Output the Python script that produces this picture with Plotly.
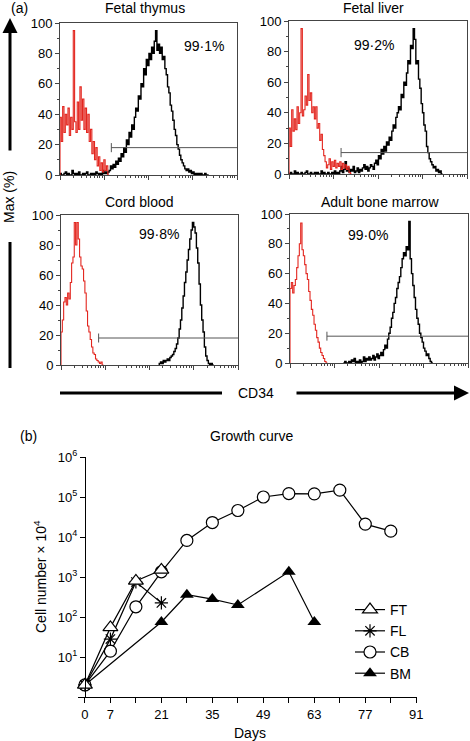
import math
import plotly.graph_objects as go

W, H = 470, 741

# ---------------- Panel (a): CD34 flow histograms (% of max vs log decades) ----------------
BIN = 0.03  # width of one histogram channel, in log decades

panel_titles = ["Fetal thymus", "Fetal liver", "Cord blood", "Adult bone marrow"]
panel_pcts = ["99·1%", "99·2%", "99·8%", "99·0%"]
pct_x = [3.26, 1.91, 2.22, 1.75]
pct_y = [85, 84, 87, 86]
gate_start = [1.16, 1.17, 0.85, 0.83]
gate_level = [18, 14, 18, 18]

ft_red_start = 0.0
ft_red = [0, 38, 22, 45, 28, 40, 33, 44, 26, 38, 30, 95, 35, 28, 48, 30, 58, 36, 50, 30, 44, 28,
          40, 22, 30, 14, 22, 10, 18, 6, 12, 3, 8, 2, 10, 3, 6, 0]
ft_black_start = 0.0
ft_black = [0, 1, 0, 0, 1, 2, 0, 1, 0, 0, 3, 1, 0, 1, 0, 2, 0, 0, 1, 0, 1, 2, 0, 0, 1, 0, 1, 0, 2, 1,
            0, 1, 0, 3, 1, 2, 1, 2,
            3, 6, 4, 7, 5, 9, 7, 11, 9, 14, 12, 18, 15, 23, 20, 28, 25, 33, 30, 38, 44, 42, 52, 50,
            60, 58, 70, 66, 76, 72, 80, 76, 84, 80, 88, 95, 82, 86, 80, 84, 76, 78, 70, 66, 58, 54,
            46, 42, 36, 30, 26, 20, 17, 13, 10, 8, 6, 4, 3, 4, 2, 3, 1, 2, 0, 1, 0, 1, 0, 1, 0, 0, 1, 0, 0]

fl_red_start = 0.0
fl_red = [0, 30, 18, 42, 28, 36, 29, 44, 33, 40, 95, 38, 42, 51, 45, 65, 48, 53, 40, 44, 36, 44, 30,
          33, 22, 26, 16, 12, 8, 4, 6, 10, 3, 8, 5, 9, 4, 7, 5, 8, 3, 7, 4, 6, 3, 5, 1, 0]
fl_black_start = 0.0
fl_black = [0, 0, 1, 0, 0, 2, 0, 1, 0, 0, 1, 0, 0, 1, 2, 0, 0, 1, 0, 0, 1, 0, 1, 0, 0, 2, 0, 1, 0, 0,
            1, 0, 0, 1, 0, 2, 0, 1, 0,
            2, 5, 1, 3, 8, 2, 4, 1, 3, 2, 5, 1, 2, 4, 1, 3, 2, 4, 6, 3, 5, 2, 4, 6,
            5, 3, 7, 9, 6, 12, 10, 16, 13, 18, 15, 21, 19, 24, 22, 28, 32, 30, 37, 40, 44, 42, 52,
            50, 60, 58, 66, 74, 72, 84, 82, 95, 88, 72, 74, 62, 56, 46, 40, 32, 28, 18, 14, 10, 8,
            6, 4, 5, 2, 3, 1, 2, 0]

cb_red_start = 0.0
cb_red = [0, 22, 30, 42, 45, 40, 48, 44, 55, 68, 72, 95, 80, 95, 84, 72, 66, 64, 56, 48, 36, 26, 22,
          17, 12, 8, 7, 4, 3, 2, 1, 2, 0]
cb_black_start = 2.22
cb_black = [0, 1, 2, 1, 3, 2, 3, 4, 3, 5, 6, 7, 9, 11, 14, 18, 24, 30, 38, 46, 55, 62, 70, 77, 84, 90,
            95, 92, 88, 78, 68, 54, 40, 30, 22, 12, 6, 3, 1, 0, 1, 0]

bm_red_start = 0.0
bm_red = [0, 50, 54, 47, 52, 56, 64, 72, 80, 94, 76, 72, 66, 60, 56, 48, 42, 36, 32, 26, 22, 17, 14,
          10, 7, 5, 3, 1, 0]
bm_black_start = 1.2
bm_black = [0, 0, 1, 0, 0, 1, 0, 2, 1, 3, 0, 1, 0, 2, 0, 1, 4, 1, 3, 2, 4, 2, 3, 5, 2, 4, 6, 3, 5, 7,
            5, 9, 12, 10, 16, 20, 24, 30, 34, 40, 44, 50, 54, 58, 64, 70, 74, 72, 78, 76, 95, 70, 60,
            52, 44, 36, 30, 26, 20, 17, 14, 10, 8, 5, 6, 3, 1, 0]

hists = [
    (ft_black_start, ft_black, ft_red_start, ft_red),
    (fl_black_start, fl_black, fl_red_start, fl_red),
    (cb_black_start, cb_black, cb_red_start, cb_red),
    (bm_black_start, bm_black, bm_red_start, bm_red),
]

# ---------------- Panel (b): growth curve ----------------
ft_days = [0, 7, 14, 21]
ft_cells = [2, 55, 800, 1500]
fl_days = [0, 7, 14, 21]
fl_cells = [2, 28, 750, 225]
cb_days = [0, 7, 14, 21, 28, 35, 42, 49, 56, 63, 70, 77, 84]
cb_cells = [2, 14, 180, 1350, 8200, 23000, 46000, 100000, 122000, 120000, 148000, 21000, 14000]
bm_days = [0, 21, 28, 35, 42, 56, 63]
bm_cells = [2, 75, 360, 280, 200, 1350, 75]

day_ticks = [0, 7, 14, 21, 28, 35, 42, 49, 56, 63, 70, 77, 84, 91]
day_labels = ["0", "7", "", "21", "", "35", "", "49", "", "63", "", "77", "", "91"]
cell_ticks = [10, 100, 1000, 10000, 100000, 1000000]
cell_labels = ["10<sup>1</sup>", "10<sup>2</sup>", "10<sup>3</sup>", "10<sup>4</sup>",
               "10<sup>5</sup>", "10<sup>6</sup>"]

FONT = "Arial, Liberation Sans, sans-serif"
RED = "#e3261f"


def px_x(p):
    return p / W


def px_y(p):
    return 1 - p / H


def label(fig, x, y, text, size=14, angle=0):
    fig.add_annotation(xref="paper", yref="paper", x=px_x(x), y=px_y(y), text=text,
                       showarrow=False, xanchor="center", yanchor="middle", textangle=angle,
                       font=dict(family=FONT, size=size, color="black"))


fig = go.Figure()

# histogram panel boxes in pixels: (left, right, top, bottom)
boxes = [(60, 237, 23, 175), (289, 467, 21, 174), (61, 238, 215, 365), (290, 468, 214, 363)]
title_pos = [(145, 8), (373, 8), (139, 202), (380, 202)]
minor_vals = [d + math.log10(k) for d in range(4) for k in range(2, 10)]

for i, (bs, bv, rs, rv) in enumerate(hists):
    n = "" if i == 0 else str(i + 1)
    fig.add_trace(go.Scatter(x=[bs + BIN * j for j in range(len(bv))], y=bv, mode="lines",
                             line=dict(color="black", width=1.4, shape="vh"),
                             xaxis="x" + n, yaxis="y" + n, showlegend=False, hoverinfo="skip"))
    fig.add_trace(go.Scatter(x=[rs + BIN * j for j in range(len(rv))], y=rv, mode="lines",
                             line=dict(color=RED, width=1.1, shape="vh"),
                             xaxis="x" + n, yaxis="y" + n, showlegend=False, hoverinfo="skip"))
    l, r, t, b = boxes[i]
    fig.layout["xaxis" + n] = dict(domain=[px_x(l), px_x(r)], range=[0, 4], anchor="y" + n,
                                   automargin=False,
                                   showline=True, linecolor="#444", linewidth=1, mirror=True,
                                   showgrid=False, zeroline=False, showticklabels=False,
                                   ticks="outside", ticklen=4, tickcolor="#444",
                                   tickvals=[0, 1, 2, 3, 4],
                                   minor=dict(tickvals=minor_vals, ticks="outside", ticklen=2,
                                              tickcolor="#444", showgrid=False))
    fig.layout["yaxis" + n] = dict(domain=[px_y(b), px_y(t)], range=[0, 100], anchor="x" + n,
                                   automargin=False,
                                   showline=True, linecolor="#444", linewidth=1, mirror=True,
                                   showgrid=False, zeroline=False,
                                   ticks="outside", ticklen=4, tickcolor="#444",
                                   tickvals=[0, 20, 40, 60, 80, 100],
                                   tickfont=dict(family=FONT, size=13, color="black"),
                                   minor=dict(dtick=10, ticks="outside", ticklen=2,
                                              tickcolor="#444", showgrid=False))
    # gate marker
    fig.add_shape(type="line", xref="x" + n, yref="y" + n, x0=gate_start[i], x1=4,
                  y0=gate_level[i], y1=gate_level[i], line=dict(color="#555", width=1))
    fig.add_shape(type="line", xref="x" + n, yref="y" + n, x0=gate_start[i], x1=gate_start[i],
                  y0=gate_level[i] - 3, y1=gate_level[i] + 3, line=dict(color="#555", width=1))
    fig.add_annotation(xref="x" + n, yref="y" + n, x=pct_x[i], y=pct_y[i], text=panel_pcts[i],
                       showarrow=False, xanchor="center", yanchor="middle",
                       font=dict(family=FONT, size=14, color="black"))
    label(fig, title_pos[i][0], title_pos[i][1], panel_titles[i])

# growth curve traces (draw order BM, CB, FL, FT; legend order FT, FL, CB, BM)
fig.add_trace(go.Scatter(x=bm_days, y=bm_cells, name="BM", mode="lines+markers",
                         line=dict(color="black", width=1.2),
                         marker=dict(symbol="triangle-up", size=12, color="black"),
                         xaxis="x5", yaxis="y5", legendrank=4, cliponaxis=False))
fig.add_trace(go.Scatter(x=cb_days, y=cb_cells, name="CB", mode="lines+markers",
                         line=dict(color="black", width=1.2),
                         marker=dict(symbol="circle", size=12, color="white",
                                     line=dict(color="black", width=1.2)),
                         xaxis="x5", yaxis="y5", legendrank=3, cliponaxis=False))
fig.add_trace(go.Scatter(x=fl_days, y=fl_cells, name="FL", mode="lines+markers",
                         line=dict(color="black", width=1.2),
                         marker=dict(symbol="asterisk-open", size=11, color="black",
                                     line=dict(color="black", width=1.2)),
                         xaxis="x5", yaxis="y5", legendrank=2, cliponaxis=False))
fig.add_trace(go.Scatter(x=ft_days, y=ft_cells, name="FT", mode="lines+markers",
                         line=dict(color="black", width=1.2),
                         marker=dict(symbol="triangle-up", size=13, color="white",
                                     line=dict(color="black", width=1.2)),
                         xaxis="x5", yaxis="y5", legendrank=1, cliponaxis=False))

fig.update_layout(
    xaxis5=dict(domain=[px_x(78), px_x(417)], range=[-1.9, 91.2], anchor="y5", automargin=False,
                showline=True, linecolor="black", linewidth=1, showgrid=False, zeroline=False,
                ticks="outside", ticklen=5, tickcolor="black", tickvals=day_ticks,
                ticktext=day_labels, tickfont=dict(family=FONT, size=13, color="black")),
    yaxis5=dict(domain=[px_y(697), px_y(457)], type="log", range=[0, 6], anchor="free",
                position=px_x(85), automargin=False, showline=True, linecolor="black",
                linewidth=1, showgrid=False, zeroline=False, ticks="outside", ticklen=5,
                tickcolor="black", tickvals=cell_ticks, ticktext=cell_labels,
                tickfont=dict(family=FONT, size=13, color="black")),
)

# panel (b) texts
label(fig, 28, 436, "(b)")
label(fig, 251, 436, "Growth curve")
label(fig, 250, 733, "Days")
label(fig, 40, 577, "Cell number × 10<sup>4</sup>", angle=-90)

# panel (a) shared labels and arrows
label(fig, 19, 8, "(a)")
label(fig, 9, 197, "Max (%)", angle=-90)
label(fig, 256, 393, "CD34")
fig.add_annotation(xref="paper", yref="paper", x=px_x(10), y=px_y(18), ax=0, ay=134,
                   axref="pixel", ayref="pixel", text="", showarrow=True, arrowhead=2,
                   arrowsize=1, arrowwidth=3, arrowcolor="black")
fig.add_shape(type="line", xref="paper", yref="paper", x0=px_x(10), x1=px_x(10),
              y0=px_y(242), y1=px_y(368), line=dict(color="black", width=3))
fig.add_shape(type="line", xref="paper", yref="paper", x0=px_x(60), x1=px_x(222),
              y0=px_y(393), y1=px_y(393), line=dict(color="black", width=3))
fig.add_annotation(xref="paper", yref="paper", x=px_x(469), y=px_y(393), ax=-174, ay=0,
                   axref="pixel", ayref="pixel", text="", showarrow=True, arrowhead=2,
                   arrowsize=1, arrowwidth=3, arrowcolor="black")

fig.update_layout(
    width=W, height=H, margin=dict(l=0, r=0, t=0, b=0, pad=0, autoexpand=False),
    paper_bgcolor="white", plot_bgcolor="white",
    font=dict(family=FONT, size=13, color="black"),
    legend=dict(x=px_x(350), y=px_y(594), xanchor="left", yanchor="top",
                bgcolor="rgba(0,0,0,0)", font=dict(family=FONT, size=14, color="black"),
                itemwidth=30),
)

fig.write_html("out.html", config={"displayModeBar": False},
               post_script="document.body.style.margin='0';document.body.style.overflow='hidden';")
